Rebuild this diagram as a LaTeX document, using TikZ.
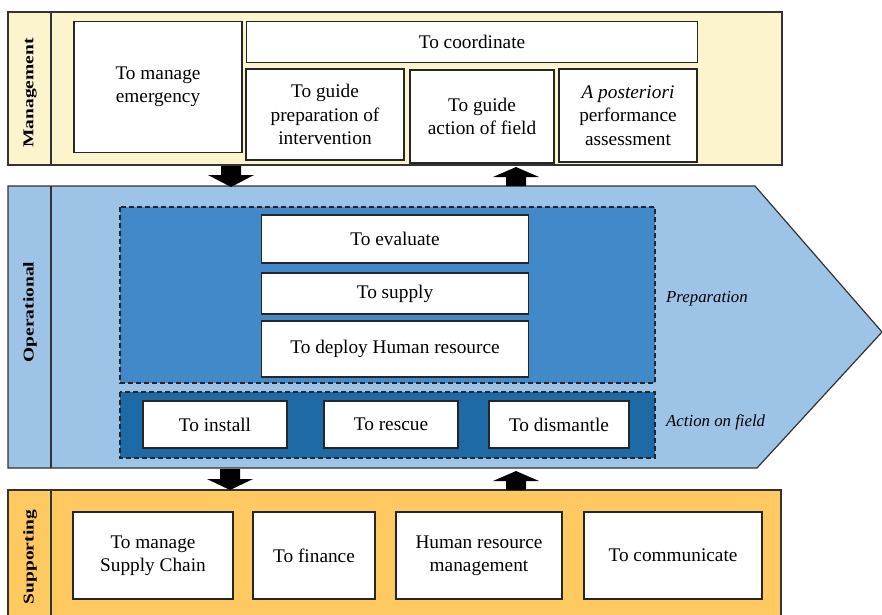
\documentclass[tikz,border=0pt]{standalone}
\usepackage{fontspec}
\setmainfont{Liberation Serif}
\usepackage{graphicx}
\definecolor{mgmt}{HTML}{FBF4CD}
\definecolor{oper}{HTML}{9DC3E6}
\definecolor{prep}{HTML}{4189C8}
\definecolor{actn}{HTML}{1E6AA6}
\definecolor{supp}{HTML}{FFC962}
\tikzset{
  box/.style={draw=black!85, line width=1.2pt, fill=white, align=center,
    font=\fontsize{19.3}{23.5}\selectfont, inner sep=2pt},
  bandlabel/.style={rotate=90, font=\fontsize{15}{15}\selectfont\bfseries, inner sep=0pt},
  sidelabel/.style={font=\fontsize{16.8}{18}\selectfont\itshape, anchor=west, inner sep=0pt},
  bandline/.style={draw=black!80, line width=1.2pt},
  dashbox/.style={draw=black!85, line width=1.3pt, dash pattern=on 5pt off 3pt},
  fatarrow/.style={fill=black, draw=none},
}
\begin{document}
\begin{tikzpicture}[x=1pt,y=-1pt]
\useasboundingbox[fill=white] (0,0) rectangle (882,614);
% ---------- Management band
\path[bandline, fill=mgmt] (8,12) rectangle (782,165);
\draw[bandline] (51,12) -- (51,165);
\node[bandlabel] (lmgmt) at (30,93) {\scalebox{1.3}[1]{Management}};
\node[box, minimum width=168pt, minimum height=131pt] (emerg) at (158,87) {To manage\\emergency};
\node[box, minimum width=451pt, minimum height=41pt] (coord) at (472,42) {To coordinate};
\node[box, minimum width=158pt, minimum height=91pt] (gprep) at (325,114.5) {To guide\\preparation of\\intervention};
\node[box, minimum width=144pt, minimum height=93pt] (gact) at (482,116.5) {To guide\\action of field};
\node[box, minimum width=138pt, minimum height=93pt] (apost) at (628,115.5) {\textit{A posteriori}\\performance\\assessment};
% ---------- Operational band
\path[bandline, fill=oper] (8,186) -- (755,186) -- (882,332) -- (757,468) -- (8,468) -- cycle;
\draw[bandline] (51,186) -- (51,468);
\node[bandlabel] (loper) at (30,312) {\scalebox{1.3}[1]{Operational}};
\path[dashbox, fill=prep] (120,207) rectangle (655,383);
\path[dashbox, fill=actn] (120,392) rectangle (655,458);
\node[box, minimum width=267pt, minimum height=48pt] (eval) at (395,239) {To evaluate};
\node[box, minimum width=267pt, minimum height=41pt] (supply) at (395,293.5) {To supply};
\node[box, minimum width=267pt, minimum height=56pt] (deploy) at (395,349) {To deploy Human resource};
\node[box, minimum width=144pt, minimum height=47pt] (install) at (215,424.5) {To install};
\node[box, minimum width=134pt, minimum height=47pt] (rescue) at (391,424.5) {To rescue};
\node[box, minimum width=140pt, minimum height=47pt] (dismantle) at (559,424.5) {To dismantle};
\node[sidelabel] (lprep) at (666,299) {Preparation};
\node[sidelabel] (lact) at (666,422) {Action on field};
% ---------- Supporting band
\path[bandline, fill=supp] (8,490) rectangle (781,620);
\draw[bandline] (51,490) -- (51,620);
\node[bandlabel] (lsupp) at (30,557) {\scalebox{1.3}[1]{Supporting}};
\node[box, minimum width=160pt, minimum height=87pt] (chain) at (153,555.5) {To manage\\Supply Chain};
\node[box, minimum width=122pt, minimum height=87pt] (finance) at (314,555.5) {To finance};
\node[box, minimum width=166pt, minimum height=87pt] (hr) at (479,555.5) {Human resource\\management};
\node[box, minimum width=178pt, minimum height=87pt] (comm) at (673,555.5) {To communicate};
% ---------- Fat arrows between bands
\fill[fatarrow] (221,166) -- (241,166) -- (241,175) -- (254,175) -- (231,187) -- (208,175) -- (221,175) -- cycle;
\fill[fatarrow] (506,186) -- (526,186) -- (526,177) -- (539,177) -- (516,167) -- (493,177) -- (506,177) -- cycle;
\fill[fatarrow] (220,469) -- (240,469) -- (240,479) -- (253,479) -- (230,490) -- (207,479) -- (220,479) -- cycle;
\fill[fatarrow] (506,490) -- (526,490) -- (526,481) -- (539,481) -- (516,471) -- (493,481) -- (506,481) -- cycle;
\end{tikzpicture}
\end{document}
